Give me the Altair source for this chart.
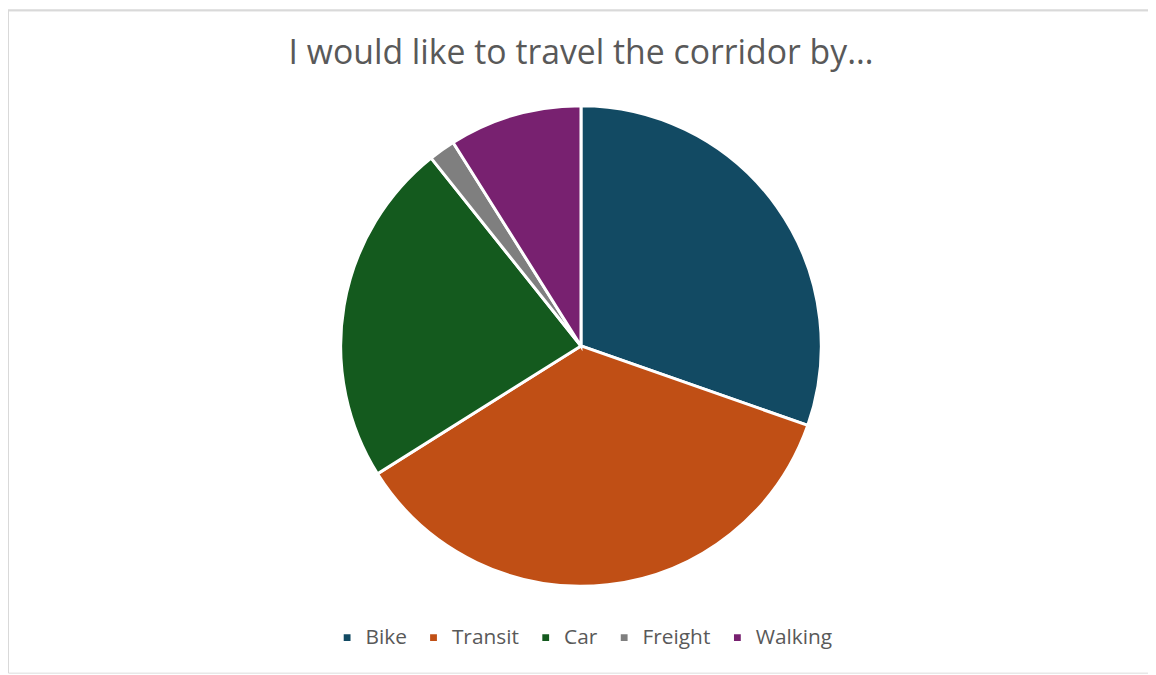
import altair as alt
import pandas as pd

modes = ["Bike", "Transit", "Car", "Freight", "Walking"]
counts = [17, 20, 13, 1, 5]
colors = ["#124a63", "#c04f15", "#145a1e", "#7f7f7f", "#782170"]
title_text = "I would like to travel the corridor by…"

df = pd.DataFrame({"mode": modes, "count": counts, "order": list(range(len(modes)))})

W, H = 1148, 667
CX, CY, R = 577, 338, 242

pie = alt.Chart(df).mark_arc(stroke="white", strokeWidth=3, radius=R).encode(
    theta=alt.Theta("count:Q", stack=True),
    order=alt.Order("order:Q"),
    color=alt.Color(
        "mode:N",
        scale=alt.Scale(domain=modes, range=colors),
        sort=modes,
        legend=alt.Legend(
            title=None,
            orient="none",
            direction="horizontal",
            legendX=331,
            legendY=621,
            symbolType="square",
            symbolSize=70,
            labelFontSize=21,
            labelColor="#595959",
            labelFont="Open Sans",
            columnPadding=16,
            symbolOffset=0,
            labelOffset=8,
        ),
    ),
    x=alt.value(CX),
    y=alt.value(CY),
)

title = alt.Chart(pd.DataFrame({"t": [title_text]})).mark_text(
    fontSize=34, font="Open Sans", color="#595959", align="center", baseline="alphabetic"
).encode(text="t:N", x=alt.value(CX), y=alt.value(54))

border = alt.Chart(pd.DataFrame({"a": [0]})).mark_rule(color="#d9d9d9", strokeWidth=2).encode(
    x=alt.value(0), x2=alt.value(W), y=alt.value(0)
)
border2 = alt.Chart(pd.DataFrame({"a": [0]})).mark_rule(color="#d9d9d9", strokeWidth=2).encode(
    x=alt.value(0), y=alt.value(0), y2=alt.value(H)
)

chart = alt.layer(pie, title, border, border2).properties(
    width=W, height=H, autosize=alt.AutoSizeParams(type="none"), padding=0
).configure_view(stroke=None).configure(background="white")

chart.save("out.html", embed_options={"renderer": "svg", "actions": False})
